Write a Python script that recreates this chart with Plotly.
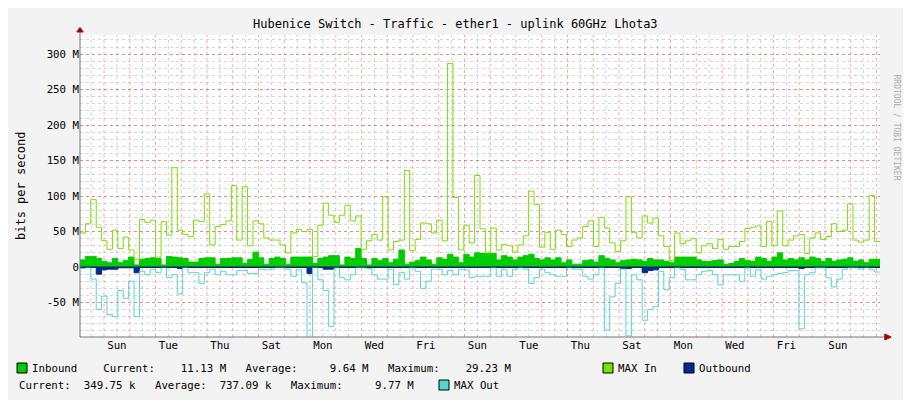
import plotly.graph_objects as go

max_in = [48,61,95,56,37,25,52,26,42,24, 11,67,63,66,14,64,45,140,52,46,
          43,66,64,103,31,57,60,65,115,38, 113,30,65,61,41,38,38,31,20,48,
          53,50,53,15,59,90,73,63,73,87, 65,72,25,37,46,38,99,24,36,38,
          136,23,39,62,61,48,66,37,287,98, 24,59,34,129,54,
          20,55,24,32,30,21,31,44,107,88, 28,49,25,52,46,29,38,41,57,65,
          29,70,55,34,22,37,99,49,41,72, 62,69,44,29,9,48,33,37,40,20,
          30,33,26,39,25,29,29,36,54,56, 58,29,64,30,79,30,38,44,46,19,
          41,48,39,43,61,50,52,89,38,35, 38,101,36]
max_out = [-2,-1,-17,-60,-41,-67,-70,-33,-44,-20, -70,-6,-11,-3,-8,-1,-15,-11,-38,-1,
           -8,-8,-23,-8,-3,-11,-6,-11,-11,-5, -5,-9,-9,-3,-4,-3,-1,-1,-3,-13,
           -4,-22,-100,-1,-18,-33,-84,-1,-15,-18, -11,-1,-1,-2,-11,-17,-17,-3,-25,-8,
           -17,-1,-6,-30,-20,-3,-3,-11,-5,-11, -3,-4,-15,-13,-13,
           -13,-1,-13,-3,-13,-3,-1,-3,-23,-15, -3,-8,-11,-13,-13,-1,-3,-3,-13,-17,
           -11,-1,-89,-42,-23,-3,-97,-11,-18,-75, -60,-56,-6,-32,-15,-1,-3,-18,-18,-11,
           -6,-5,-11,-25,-11,-11,-11,-20,-1,-13, -4,-17,-13,-11,-9,-8,-5,-5,-87,-11,
           -8,-1,-1,-15,-28,-17,-3,-1,-1,-3, -1,-4,-7]
inbound = [10,15,15,12,8,6,12,6,9,14, 3,11,12,13,12,3,15,14,13,12,
           7,7,12,13,13,4,12,12,13,13, 5,11,21,13,4,12,14,12,4,14,
           14,14,14,5,12,14,16,16,3,14, 12,26,12,3,12,9,12,6,11,24,
           4,7,9,14,10,4,13,11,18,14, 6,18,14,20,19,
           19,19,10,16,14,10,14,16,18,12, 10,13,10,13,6,10,4,4,9,10,
           7,16,12,10,6,9,10,11,10,8, 12,10,10,8,6,14,14,14,14,10,
           8,8,9,10,4,5,8,12,9,8, 14,12,8,14,20,10,12,10,13,10,
           14,12,8,12,8,10,11,13,8,10, 6,11,11]
outbound = [-0.6,-0.6,-0.6,-10,-4,-3,-3,-1,-1,-1, -8,-0.6,-0.6,-0.6,-0.6,-0.6,-0.6,-0.6,-2,-0.6,
            -0.6,-0.6,-0.6,-0.6,-0.6,-0.6,-0.6,-0.6,-0.6,-0.6, -0.6,-0.6,-0.6,-0.6,-0.6,-0.6,-0.6,-0.6,-0.6,-0.6,
            -0.6,-0.6,-9,-0.6,-0.6,-3,-3,-0.6,-0.6,-0.6, -0.6,-0.6,-0.6,-0.6,-0.6,-0.6,-0.6,-0.6,-0.6,-0.6,
            -0.6,-0.6,-0.6,-0.6,-0.6,-0.6,-0.6,-0.6,-0.6,-0.6, -0.6,-0.6,-0.6,-0.6,-0.6,
            -0.6,-0.6,-0.6,-0.6,-0.6,-0.6,-0.6,-0.6,-0.6,-0.6, -0.6,-0.6,-0.6,-0.6,-0.6,-0.6,-0.6,-0.6,-0.6,-0.6,
            -0.6,-0.6,-0.6,-0.6,-0.6,-2,-2,-0.6,-0.6,-8, -5,-4,-0.6,-0.6,-0.6,-0.6,-0.6,-0.6,-0.6,-0.6,
            -0.6,-0.6,-0.6,-0.6,-0.6,-0.6,-0.6,-0.6,-0.6,-0.6, -0.6,-0.6,-0.6,-0.6,-0.6,-0.6,-0.6,-0.6,-2,-0.6,
            -0.6,-0.6,-0.6,-0.6,-0.6,-0.6,-0.6,-0.6,-0.6,-0.6, -0.6,-0.6,-0.6]
day_labels = ["Sun","Tue","Thu","Sat","Mon","Wed","Fri","Sun","Tue","Thu","Sat","Mon","Wed","Fri","Sun"]
y_ticks = [-50, 0, 50, 100, 150, 200, 250, 300]
y_tick_text = ["-50 M", "0", "50 M", "100 M", "150 M", "200 M", "250 M", "300 M"]

N = len(max_in)
span_days = 800 / 25.75
dx = span_days / N
xs = [i * dx for i in range(N)] + [N * dx]
ext = lambda v: list(v) + [v[-1]]

MONO = "DejaVu Sans Mono"
fig = go.Figure()
fig.add_trace(go.Scatter(x=xs, y=ext(inbound), mode="lines", line=dict(color="#00CC00", width=1, shape="hv"),
                         fill="tozeroy", fillcolor="#00CC00"))
fig.add_trace(go.Scatter(x=xs, y=ext(outbound), mode="lines", line=dict(color="#002A97", width=1, shape="hv"),
                         fill="tozeroy", fillcolor="#002A97"))
fig.add_trace(go.Scatter(x=xs, y=ext(max_in), mode="lines", line=dict(color="#7CE000", width=1, shape="hv")))
fig.add_trace(go.Scatter(x=xs, y=ext(max_out), mode="lines", line=dict(color="#55D6D3", width=1, shape="hv")))

shapes = []
first_red = 24 / 25.75
k = 0
while first_red - 0.5 + 0.5 * k <= span_days:
    xv = first_red - 0.5 + 0.5 * k
    if xv > 0.02:
        red = (k % 2 == 1)
        shapes.append(dict(type="line", xref="x", yref="paper", x0=xv, x1=xv, y0=0, y1=1, layer="below",
                           line=dict(color="rgba(255,0,0,0.35)" if red else "rgba(140,140,140,0.4)", width=1, dash="dot")))
    k += 1
shapes.append(dict(type="line", xref="paper", yref="y", x0=0, x1=1, y0=0, y1=0, line=dict(color="#1a1a60", width=1)))
shapes.append(dict(type="line", xref="paper", yref="paper", x0=0, x1=1.01, y0=0, y1=0, line=dict(color="#777", width=1)))
shapes.append(dict(type="line", xref="paper", yref="paper", x0=0, x1=0, y0=0, y1=1.02, line=dict(color="#777", width=1)))
shapes.append(dict(type="path", xref="paper", yref="paper", path="M 1.006 -0.01 L 1.014 0 L 1.006 0.01 Z",
                   fillcolor="#a00", line=dict(color="#a00", width=1)))
shapes.append(dict(type="path", xref="paper", yref="paper", path="M -0.004 1.01 L 0 1.025 L 0.004 1.01 Z",
                   fillcolor="#a00", line=dict(color="#a00", width=1)))

def px(x): return (x - 80) / 800
def py(y): return (337 - y) / 302

for x0, col, y0 in [(17, "#00CC00", 368), (603, "#7CE000", 368), (684, "#002A97", 368), (439, "#55D6D3", 385)]:
    shapes.append(dict(type="rect", xref="paper", yref="paper", x0=px(x0), x1=px(x0 + 10),
                       y0=py(y0 + 5), y1=py(y0 - 5), fillcolor=col, line=dict(color="#000", width=1)))

ann = []
def text(x, y, s, **kw):
    ann.append(dict(xref="paper", yref="paper", x=px(x), y=py(y), text=s, showarrow=False, xanchor="left",
                    yanchor="middle", font=dict(family=MONO, size=10.75, color="#000"), **kw))
text(30, 368, "Inbound    Current:    11.13 M   Average:     9.64 M   Maximum:    29.23 M")
text(616, 368, "MAX In")
text(697, 368, "Outbound")
text(17, 385, "Current:  349.75 k   Average:  737.09 k   Maximum:     9.77 M")
text(452, 385, "MAX Out")
ann.append(dict(xref="paper", yref="paper", x=px(455), y=py(15), text="Hubenice Switch - Traffic - ether1 - uplink 60GHz Lhota3",
                showarrow=False, font=dict(family=MONO, size=12, color="#000")))
ann.append(dict(xref="paper", yref="paper", x=px(12), y=py(186), text="bits per second", textangle=-90,
                showarrow=False, font=dict(family=MONO, size=12, color="#000")))
ann.append(dict(xref="paper", yref="paper", x=px(902), y=py(72), text="RRDTOOL / TOBI OETIKER", textangle=90,
                showarrow=False, font=dict(family=MONO, size=8, color="#aaa")))

label_x = [first_red + 0.5 + 2 * i for i in range(len(day_labels))]

fig.update_layout(
    width=911, height=400, margin=dict(l=72, r=39, t=27, b=71),
    paper_bgcolor="#f3f3f3", plot_bgcolor="#ffffff", showlegend=False,
    shapes=shapes, annotations=ann,
    xaxis=dict(range=[0, span_days], tickvals=label_x, ticktext=day_labels, showgrid=False, zeroline=False,
               ticks="", tickfont=dict(family=MONO, size=10.75, color="#000"), showline=False, fixedrange=True),
    yaxis=dict(range=[-98.6, 327], tickvals=y_ticks, ticktext=y_tick_text, zeroline=False, showline=False,
               gridcolor="rgba(255,0,0,0.35)", griddash="dot", ticks="",
               tickfont=dict(family=MONO, size=10.75, color="#000"),
               minor=dict(dtick=10, tick0=0, showgrid=True, gridcolor="rgba(140,140,140,0.35)", griddash="dot")),
)
fig.write_html("out.html")
